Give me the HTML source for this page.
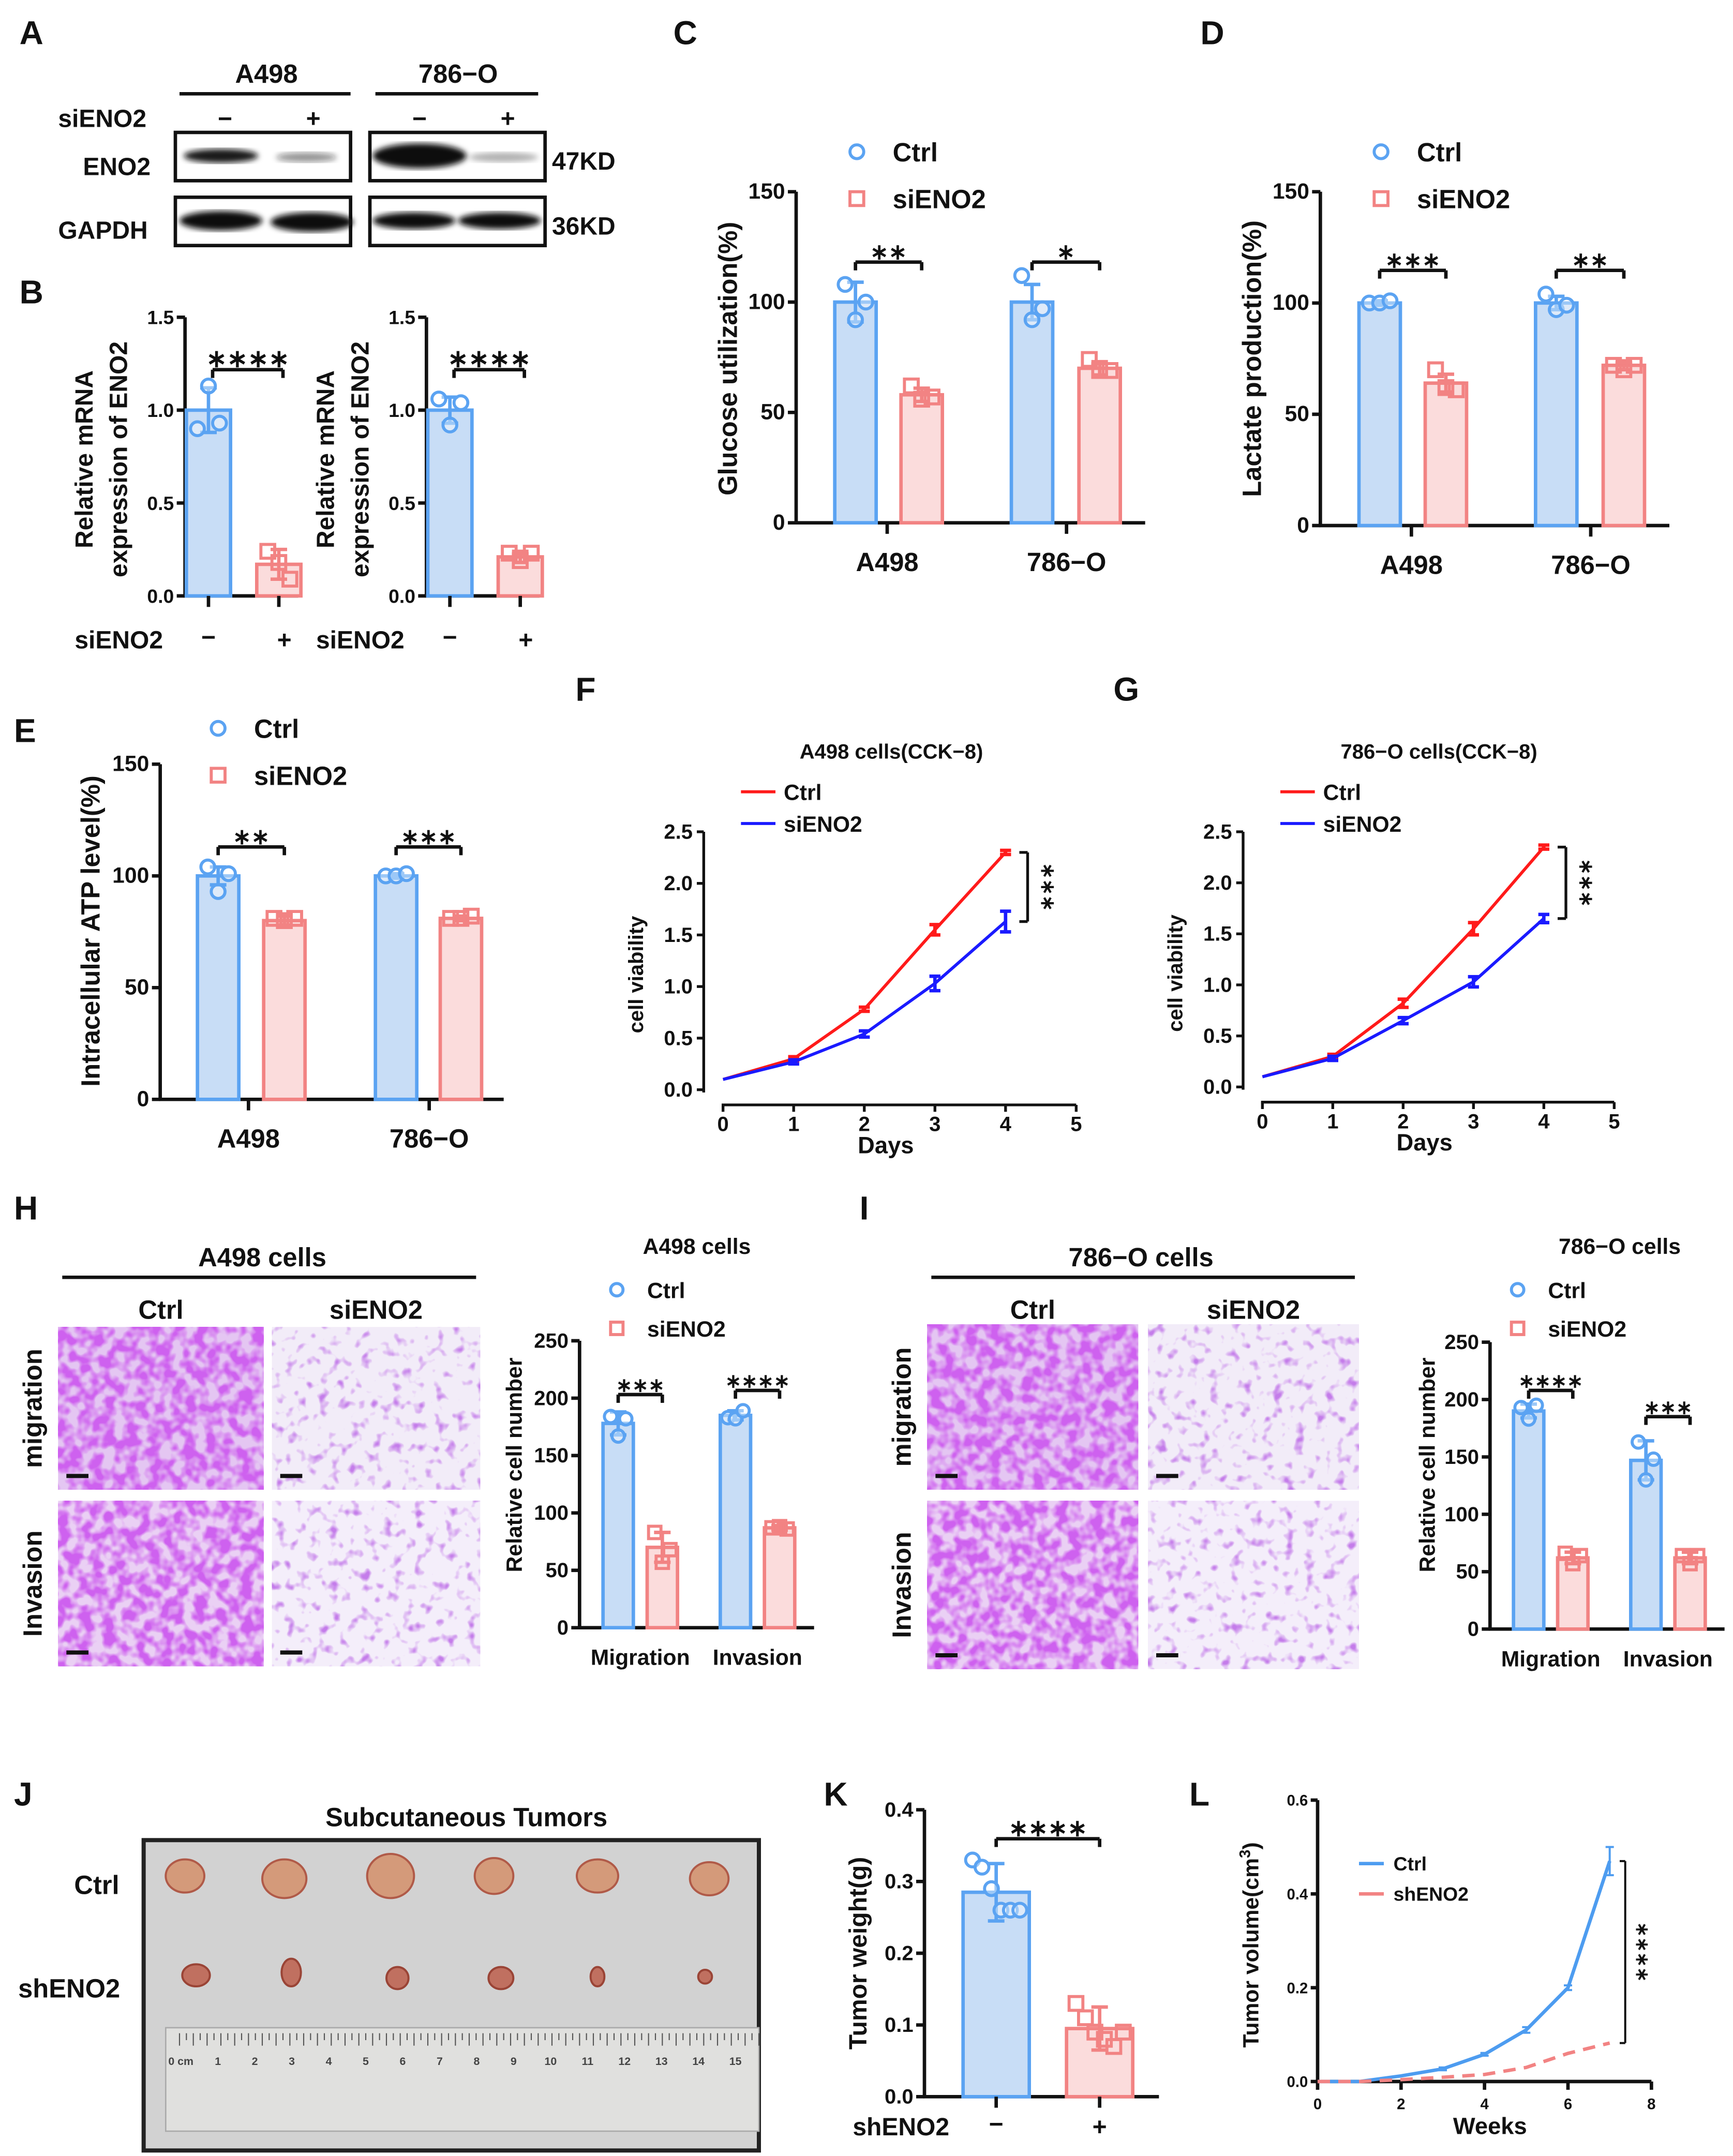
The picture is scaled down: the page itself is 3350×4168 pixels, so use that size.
<!DOCTYPE html>
<html><head><meta charset="utf-8"><style>
html,body{margin:0;padding:0;background:#fff}
svg{display:block}
text{font-family:"Liberation Sans",sans-serif;font-weight:bold;fill:#111}
</style></head><body>
<svg id="fig" xmlns="http://www.w3.org/2000/svg" width="3350" height="4168" viewBox="0 0 1256 1563">
<defs>
<filter id="blur2"><feGaussianBlur stdDeviation="2"/></filter>
<filter id="stainDense" x="0" y="0" width="1" height="1">
<feTurbulence type="fractalNoise" baseFrequency="0.12" numOctaves="2" seed="3"/>
<feColorMatrix type="matrix" values="0 0 0 0 0.62  0 0 0 0 0.12  0 0 0 0 0.86  0 0 0 -3.6 2.3"/>
</filter>
<filter id="stainSparse" x="0" y="0" width="1" height="1">
<feTurbulence type="fractalNoise" baseFrequency="0.13" numOctaves="2" seed="7"/>
<feColorMatrix type="matrix" values="0 0 0 0 0.55  0 0 0 0 0.2  0 0 0 0 0.82  0 0 0 -4 1.75"/>
</filter>
</defs>
<g id="root"></g>
</svg>
<script>
// ---------- data ----------
const bLeftVals=[1.0,0.17], bLeftErr=[0.12,0.08], bLeftPts=[[0.9,1.13,0.93],[0.24,0.18,0.09]];
const bRightVals=[1.0,0.21], bRightErr=[0.07,0.03], bRightPts=[[1.06,0.92,1.04],[0.23,0.19,0.23]];
const groupsCell=["A498","786−O"];
const glucoseCtrl=[100,100], glucoseSi=[58,70], glucoseErrC=[9,8], glucoseErrS=[3,3];
const glucosePtsC=[[108,92,100],[112,92,97]], glucosePtsS=[[62,56,57],[74,69,69]];
const lactateCtrl=[100,100], lactateSi=[64,72], lactateErrC=[1,3], lactateErrS=[4,2];
const lactatePtsC=[[100,100,101],[104,97,99]], lactatePtsS=[[70,62,61],[72,70,72]];
const atpCtrl=[100,100], atpSi=[80,81], atpErrC=[4,1], atpErrS=[2,1];
const atpPtsC=[[104,93,101],[100,100,101]], atpPtsS=[[81,80,81],[81,81,82]];
const days=[0,1,2,3,4];
const fCtrl=[0.1,0.3,0.78,1.55,2.3], fSi=[0.1,0.27,0.54,1.03,1.63];
const fCtrlErr=[0.01,0.02,0.02,0.05,0.02], fSiErr=[0.01,0.02,0.03,0.07,0.1];
const gCtrl=[0.1,0.3,0.82,1.55,2.35], gSi=[0.1,0.28,0.65,1.03,1.65];
const gCtrlErr=[0.01,0.02,0.04,0.06,0.02], gSiErr=[0.01,0.02,0.03,0.05,0.04];
const assayGroups=["Migration","Invasion"];
const hCtrl=[178,185], hSi=[70,87], hErrC=[10,4], hErrS=[13,2];
const hPtsC=[[184,167,182],[183,182,189]], hPtsS=[[83,57,68],[87,88,86]];
const iCtrl=[190,147], iSi=[62,62], iErrC=[6,17], iErrS=[5,5];
const iPtsC=[[193,183,195],[163,130,148]], iPtsS=[[66,57,64],[64,57,64]];
const kVals=[0.285,0.095], kErr=[0.04,0.03];
const kPts=[[0.33,0.32,0.29,0.26,0.26,0.26],[0.13,0.11,0.09,0.08,0.07,0.09]];
const weeks=[0,1,2,3,4,5,6,7];
const lCtrl=[0,0,0.012,0.027,0.058,0.11,0.2,0.47], lSh=[0,0,0.004,0.009,0.015,0.03,0.06,0.082];
const lCtrlErr=[0,0,0,0.003,0.003,0.006,0.005,0.03];

// ---------- helpers ----------
const NS="http://www.w3.org/2000/svg";
const root=document.getElementById('root');
function el(tag,attrs,parent,txt){const e=document.createElementNS(NS,tag);for(const k in attrs)e.setAttribute(k,attrs[k]);if(txt!==undefined)e.textContent=txt;(parent||root).appendChild(e);return e;}
function grp(name){const g=el('g',{});return g;}
function txt(g,x,y,s,size,anchor,rot,name,fill){const t=el('text',{x:x,y:y,'font-size':size,'text-anchor':anchor||'middle'},g,s);if(rot)t.setAttribute('transform','rotate('+rot+' '+x+' '+y+')');if(fill)t.setAttribute('style','fill:'+fill);return t;}
function line(g,x1,y1,x2,y2,c,w,dash){const l=el('line',{x1:x1,y1:y1,x2:x2,y2:y2,stroke:c||'#111','stroke-width':w||2.5},g);if(dash)l.setAttribute('stroke-dasharray',dash);return l;}
const BLUE="#5ba3f2", BLUEF="#c8ddf6", RED="#f28383", REDF="#fbdcdc";
function yAxis(g,x,y0,yTop,ticks,max,size,fmt,xEnd){
  const sc=v=>y0-(v/max)*(y0-yTop);
  line(g,x,y0+1,x,yTop,'#111',2.5);
  ticks.forEach(t=>{line(g,x-6,sc(t),x,sc(t),'#111',2.5);txt(g,x-8,sc(t)+5,fmt?fmt(t):String(t),size,'end',0,'y-tick-label');});
  if(xEnd)line(g,x-1,y0,xEnd,y0,'#111',2.5);
  return sc;
}
function marker(g,cx,cy,col,type,r){
  if(type==='c'){const c=el('circle',{cx:cx,cy:cy,r:r,fill:'#fff','fill-opacity':0.4,stroke:col,'stroke-width':2.2},g);}
  else{const s=el('rect',{x:cx-r,y:cy-r,width:2*r,height:2*r,fill:'none',stroke:col,'stroke-width':2.2},g);}
}
function bar(g,sc,cx,w,v,err,pts,col,fill,type,name,mr){
  const r=el('rect',{x:cx-w/2,y:sc(v),width:w,height:sc(0)-sc(v),fill:fill,stroke:col,'stroke-width':2.5},g);
  
  line(g,cx,sc(v-err),cx,sc(v+err),col,2.5);
  line(g,cx-6,sc(v+err),cx+6,sc(v+err),col,2.5);
  line(g,cx-6,sc(v-err),cx+6,sc(v-err),col,2.5);
  const n=pts.length, sp=Math.min(9,w/(n+1));
  pts.forEach((p,i)=>marker(g,cx+(i-(n-1)/2)*sp,sc(p),col,type,mr||5));
}
function bracket(g,x1,x2,y,stars,size){line(g,x1,y+6,x1,y,'#111',2.5);line(g,x1,y,x2,y);line(g,x2,y,x2,y+6);txt(g,(x1+x2)/2,y-2,stars,size||16,'middle',0,'significance-stars');}
function legendBar(g,x,y,size,gap){marker(g,x,y,BLUE,'c',5);txt(g,x+26,y+7,'Ctrl',size,'start',0,'legend-ctrl');marker(g,x,y+gap,RED,'s',5);txt(g,x+26,y+gap+7,'siENO2',size,'start',0,'legend-sieno2');}
function panel(l,x,y){txt(null,x,y,l,24,'start',0,'panel-label-'+l.toLowerCase());}

// ---------- panel letters ----------
[['A',14,32],['B',14,220],['C',488,32],['D',870,32],['E',10,538],['F',417,508],['G',807,508],['H',10,884],['I',623,884],['J',10,1309],['K',597,1309],['L',862,1309]].forEach(p=>panel(p[0],p[1],p[2]));

// ---------- A western blot ----------
(function(){
const g=grp('western-blot');
txt(g,193,60,'A498',19,'middle',0,'cell-a498');txt(g,332,60,'786−O',19,'middle',0,'cell-786o');
line(g,130,68,254,68,'#111',2.5);line(g,272,68,390,68,'#111',2.5);
txt(g,42,92,'siENO2',18,'start',0,'sieno2-label');
txt(g,163,92,'−',18,'middle',0,'minus');txt(g,227,92,'+',18,'middle',0,'plus');
txt(g,304,92,'−',18,'middle',0,'minus');txt(g,368,92,'+',18,'middle',0,'plus');
txt(g,60,127,'ENO2',18,'start',0,'eno2-label');txt(g,42,173,'GAPDH',18,'start',0,'gapdh-label');
txt(g,400,123,'47KD',18,'start',0,'kd-47');txt(g,400,170,'36KD',18,'start',0,'kd-36');
[[127,96],[268,96],[127,143],[268,143]].forEach(b=>{const r=el('rect',{x:b[0],y:b[1],width:127,height:35,fill:'#fff',stroke:'#111','stroke-width':2.5},g);});
const bands=[[160,113,27,5,0.95],[222,114,22,3.5,0.45],[304,113,34,9,1],[365,114,25,3.5,0.3],[160,160,30,7,1],[226,161,30,7,1],[300,160,30,6,1],[362,160,30,6,1]];
bands.forEach(b=>{const e=el('ellipse',{cx:b[0],cy:b[1],rx:b[2],ry:b[3],fill:'#111','fill-opacity':b[4],filter:'url(#blur2)'},g);});
})();

// ---------- B ----------
function panelB(ax,vals,err,pts,name,lx){
const g=grp(name);
const sc=yAxis(g,ax,432,230,[0,0.5,1.0,1.5],1.5,14,t=>t.toFixed(1),ax+82);
const xs=[ax+17,ax+68];
bar(g,sc,xs[0],32,vals[0],err[0],pts[0],BLUE,BLUEF,'c','bar-ctrl');
bar(g,sc,xs[1],32,vals[1],err[1],pts[1],RED,REDF,'s','bar-sieno2');
xs.forEach(x=>line(g,x,432,x,440));
bracket(g,xs[0]+3,xs[1]+3,268,'∗∗∗∗',18);
txt(g,lx,333,'Relative mRNA',18,'middle',-90,'y-axis-title');
txt(g,lx+25,333,'expression of ENO2',18,'middle',-90,'y-axis-title');
txt(g,ax-80,470,'siENO2',18,'start',0,'x-label-sieno2');
txt(g,xs[0],468,'−',18,'middle',0,'minus');txt(g,xs[1]+4,470,'+',18,'middle',0,'plus');
}
panelB(134,bLeftVals,bLeftErr,bLeftPts,'chart-b-a498',67);
panelB(309,bRightVals,bRightErr,bRightPts,'chart-b-786o',242);

// ---------- grouped bar charts C D E ----------
function grouped(name,ax,y0,yTop,max,ticks,xEnd,xs,ctrl,si,eC,eS,pC,pS,w,stars,starY){
const g=grp(name);
const sc=yAxis(g,ax,y0,yTop,ticks,max,16,null,xEnd);
ctrl.forEach((v,i)=>{
  bar(g,sc,xs[i][0],w,v,eC[i],pC[i],BLUE,BLUEF,'c','bar-ctrl');
  bar(g,sc,xs[i][1],w,si[i],eS[i],pS[i],RED,REDF,'s','bar-sieno2');
  bracket(g,xs[i][0],xs[i][1],starY,stars[i],16);
});
return {g,sc};
}
(function(){
let r=grouped('chart-c',577,379,139,150,[0,50,100,150],830,[[620,668],[748,797]],glucoseCtrl,glucoseSi,glucoseErrC,glucoseErrS,glucosePtsC,glucosePtsS,30,['∗∗','∗'],190);
[643,773].forEach((x,i)=>{line(r.g,x,379,x,387);txt(r.g,x,414,groupsCell[i],19,'middle',0,'x-tick-label');});
txt(r.g,534,260,'Glucose utilization(%)',19,'middle',-90,'y-axis-title');
legendBar(r.g,621,110,19,34);
r=grouped('chart-d',957,381,139,150,[0,50,100,150],1210,[[1000,1048],[1128,1177]],lactateCtrl,lactateSi,lactateErrC,lactateErrS,lactatePtsC,lactatePtsS,30,['∗∗∗','∗∗'],196);
[1023,1153].forEach((x,i)=>{line(r.g,x,381,x,389);txt(r.g,x,416,groupsCell[i],19,'middle',0,'x-tick-label');});
txt(r.g,914,260,'Lactate production(%)',19,'middle',-90,'y-axis-title');
legendBar(r.g,1001,110,19,34);
r=grouped('chart-e',116,797,554,150,[0,50,100,150],365,[[158,206],[287,334]],atpCtrl,atpSi,atpErrC,atpErrS,atpPtsC,atpPtsS,30,['∗∗','∗∗∗'],614);
[180,311].forEach((x,i)=>{line(r.g,x,797,x,805);txt(r.g,x,832,groupsCell[i],19,'middle',0,'x-tick-label');});
txt(r.g,72,675,'Intracellular ATP level(%)',19,'middle',-90,'y-axis-title');
legendBar(r.g,158,528,19,34);
})();

// ---------- line charts F G ----------
function cck(name,x0,x5,yb,yt,ctrl,si,ec,es,title,tx){
const g=grp(name);
const xs=d=>x0+d*(x5-x0)/5, ys=v=>yb-v/2.5*(yb-yt);
line(g,x0-14,yb+2,x0-14,yt,'#111',2);
[0,0.5,1.0,1.5,2.0,2.5].forEach(t=>{line(g,x0-19,ys(t),x0-14,ys(t),'#111',2);txt(g,x0-22,ys(t)+5,t.toFixed(1),15,'end',0,'y-tick-label');});
line(g,x0-1,yb+11,x5,yb+11,'#111',2);
[0,1,2,3,4,5].forEach(t=>{line(g,xs(t),yb+11,xs(t),yb+16,'#111',2);txt(g,xs(t),yb+30,String(t),15,'middle',0,'x-tick-label');});
txt(g,(x0+x5)/2-10,yb+46,'Days',17,'middle',0,'x-axis-title');
txt(g,x0-58,(yb+yt)/2+10,'cell viability',15,'middle',-90,'y-axis-title');
txt(g,tx,550,title,15,'middle',0,'chart-title');
[[ctrl,ec,'#ff1a1a','line-ctrl'],[si,es,'#1a1aff','line-sieno2']].forEach(s=>{
  const p=el('polyline',{points:days.map((d,i)=>xs(d)+','+ys(s[0][i])).join(' '),fill:'none',stroke:s[2],'stroke-width':2.2},g);
  
  days.forEach((d,i)=>{const e=s[1][i];if(e>0.015){line(g,xs(d),ys(s[0][i]-e),xs(d),ys(s[0][i]+e),s[2],2.5);line(g,xs(d)-4,ys(s[0][i]+e),xs(d)+4,ys(s[0][i]+e),s[2],2.5);line(g,xs(d)-4,ys(s[0][i]-e),xs(d)+4,ys(s[0][i]-e),s[2],2.5);}});
});
line(g,x0+13,574,x0+38,574,'#ff1a1a',2.2);txt(g,x0+44,580,'Ctrl',16,'start',0,'legend-ctrl');
line(g,x0+13,597,x0+38,597,'#1a1aff',2.2);txt(g,x0+44,603,'siENO2',16,'start',0,'legend-sieno2');
const bx=xs(4)+16;line(g,bx-6,ys(ctrl[4]),bx,ys(ctrl[4]),'#111',2);line(g,bx,ys(ctrl[4]),bx,ys(si[4]),'#111',2);line(g,bx-6,ys(si[4]),bx,ys(si[4]),'#111',2);
txt(g,bx+10,ys((ctrl[4]+si[4])/2),'∗∗∗',14,'middle',90,'significance-stars');
}
cck('chart-f',524,780,790,603,fCtrl,fSi,fCtrlErr,fSiErr,'A498 cells(CCK−8)',646);
cck('chart-g',915,1170,788,603,gCtrl,gSi,gCtrlErr,gSiErr,'786−O cells(CCK−8)',1043);

// ---------- H I micrographs ----------
function micro(name,x1,x2,yA,yB,title,tx){
const g=grp(name);
txt(g,tx,918,title,19,'middle',0,'micrograph-title');
line(g,x1[0]+3,926,x2[0]+x2[1]-3,926,'#111',2.5);
txt(g,x1[0]+x1[1]/2,956,'Ctrl',19,'middle',0,'col-ctrl');txt(g,x2[0]+x2[1]/2,956,'siENO2',19,'middle',0,'col-sieno2');
txt(g,x1[0]-12,yA[0]+yA[1]/2,'migration',19,'middle',-90,'row-migration');
txt(g,x1[0]-12,yB[0]+yB[1]/2,'Invasion',19,'middle',-90,'row-invasion');
[[x1,yA,'stainDense','#e4c6f2'],[x2,yA,'stainSparse','#f2ecf8'],[x1,yB,'stainDense','#ead0f4'],[x2,yB,'stainSparse','#f4eefa']].forEach(c=>{
  const b=el('rect',{x:c[0][0],y:c[1][0],width:c[0][1],height:c[1][1],fill:c[3]},g);
  el('rect',{x:c[0][0],y:c[1][0],width:c[0][1],height:c[1][1],fill:'#fff',filter:'url(#'+c[2]+')'},g);
  line(g,c[0][0]+6,c[1][0]+c[1][1]-10,c[0][0]+22,c[1][0]+c[1][1]-10,'#111',3);
});
}
micro('micrographs-a498',[42,149],[197,151],[962,118],[1088,120],'A498 cells',190);
micro('micrographs-786o',[672,153],[832,153],[960,120],[1088,122],'786−O cells',827);

function cellChart(name,ax,y0,yTop,xEnd,xs,ctrl,si,eC,eS,pC,pS,title,tx,legX,starsArr,starY,ylx){
const g=grp(name);
const sc=yAxis(g,ax,y0,yTop,[0,50,100,150,200,250],250,15,null,xEnd);
ctrl.forEach((v,i)=>{
  bar(g,sc,xs[i][0],22,v,eC[i],pC[i],BLUE,BLUEF,'c','bar-ctrl',4.5);
  bar(g,sc,xs[i][1],22,si[i],eS[i],pS[i],RED,REDF,'s','bar-sieno2',4.5);
  bracket(g,xs[i][0],xs[i][1],starY[i],starsArr[i],14);
  txt(g,(xs[i][0]+xs[i][1])/2,y0+27,assayGroups[i],16,'middle',0,'x-tick-label');
});
txt(g,tx,909,title,16,'middle',0,'chart-title');
marker(g,legX,935,BLUE,'c',4.5);txt(g,legX+22,941,'Ctrl',16,'start',0,'legend-ctrl');
marker(g,legX,963,RED,'s',4.5);txt(g,legX+22,969,'siENO2',16,'start',0,'legend-sieno2');
txt(g,ylx,1062,'Relative cell number',16,'middle',-90,'y-axis-title');
}
cellChart('chart-h',420,1180,972,590,[[448,480],[533,565]],hCtrl,hSi,hErrC,hErrS,hPtsC,hPtsS,'A498 cells',505,447,['∗∗∗','∗∗∗∗'],[1011,1008],378);
cellChart('chart-i',1080,1181,973,1250,[[1108,1140],[1193,1225]],iCtrl,iSi,iErrC,iErrS,iPtsC,iPtsS,'786−O cells',1174,1100,['∗∗∗∗','∗∗∗'],[1008,1027],1040);

// ---------- J tumor photo ----------
(function(){
const g=grp('tumor-photo');
txt(g,338,1324,'Subcutaneous Tumors',19,'middle',0,'photo-title');
txt(g,70,1373,'Ctrl',19,'middle',0,'row-ctrl');txt(g,50,1448,'shENO2',19,'middle',0,'row-shENO2');
const bg=el('rect',{x:104,y:1334,width:446,height:225,fill:'#d2d2d2',stroke:'#222','stroke-width':3},g);
const r=el('rect',{x:120,y:1470,width:430,height:75,fill:'#e0e0de',stroke:'#aaa','stroke-width':1},g);
for(let i=0;i<=84;i++){line(g,130+i*5,1474,130+i*5,1474+(i%2?5:9),'#555',0.8);}
for(let i=0;i<=15;i++){txt(g,131+i*26.8,1497,i===0?'0 cm':String(i),8,'middle',0,'ruler-number','#444');}
[[134,1360,14,12],[206,1362,16,14],[283,1360,17,16],[358,1360,14,13],[433,1360,15,12],[514,1362,14,12]].forEach(t=>{const e=el('ellipse',{cx:t[0],cy:t[1],rx:t[2],ry:t[3],fill:'#d49a7a',stroke:'#b05a48','stroke-width':1.5},g);});
[[142,1432,10,8],[211,1430,7,10],[288,1434,8,8],[363,1434,9,8],[433,1433,5,7],[511,1433,5,5]].forEach(t=>{const e=el('ellipse',{cx:t[0],cy:t[1],rx:t[2],ry:t[3],fill:'#c07060',stroke:'#9a4436','stroke-width':1.5},g);});
})();

// ---------- K ----------
(function(){
const g=grp('chart-k');
const sc=yAxis(g,670,1520,1312,[0,0.1,0.2,0.3,0.4],0.4,15,t=>t.toFixed(1),840);
const xs=[722,797];
bar(g,sc,xs[0],48,kVals[0],kErr[0],kPts[0],BLUE,BLUEF,'c','bar-ctrl',5);
bar(g,sc,xs[1],48,kVals[1],kErr[1],kPts[1],RED,REDF,'s','bar-shENO2',5);
bracket(g,xs[0],xs[1],1333,'∗∗∗∗',17);
xs.forEach(x=>line(g,x,1520,x,1528));
txt(g,618,1548,'shENO2',18,'start',0,'x-label-shENO2');
txt(g,xs[0],1546,'−',18,'middle',0,'minus');txt(g,xs[1],1548,'+',18,'middle',0,'plus');
txt(g,628,1416,'Tumor weight(g)',18,'middle',-90,'y-axis-title');
})();

// ---------- L ----------
(function(){
const g=grp('chart-l');
const xs=w=>955+w*(1197-955)/8, ys=v=>1509-v/0.6*(1509-1305);
line(g,955,1510,955,1305,'#111',2.5);
[0,0.2,0.4,0.6].forEach(t=>{line(g,950,ys(t),955,ys(t),'#111',2.5);txt(g,948,ys(t)+4,t.toFixed(1),11,'end',0,'y-tick-label');});
line(g,954,1509,1197,1509,'#111',2.5);
[0,2,4,6,8].forEach(t=>{line(g,xs(t),1509,xs(t),1515,'#111',2.5);txt(g,xs(t),1529,String(t),11,'middle',0,'x-tick-label');});
txt(g,1080,1547,'Weeks',17,'middle',0,'x-axis-title');
const yt=el('text',{x:912,y:1410,'font-size':16,'text-anchor':'middle',transform:'rotate(-90 912 1410)'},g);

yt.innerHTML='Tumor volume(cm<tspan dy="-6" font-size="11">3</tspan><tspan dy="6">)</tspan>';
const pc=el('polyline',{points:weeks.map((w,i)=>xs(w)+','+ys(lCtrl[i])).join(' '),fill:'none',stroke:'#4d9cf0','stroke-width':2.5},g);

weeks.forEach((w,i)=>{const e=lCtrlErr[i];if(e>0){line(g,xs(w),ys(lCtrl[i]-e),xs(w),ys(lCtrl[i]+e),'#4d9cf0',1.5);line(g,xs(w)-3,ys(lCtrl[i]+e),xs(w)+3,ys(lCtrl[i]+e),'#4d9cf0',1.5);line(g,xs(w)-3,ys(lCtrl[i]-e),xs(w)+3,ys(lCtrl[i]-e),'#4d9cf0',1.5);}});
const ps=el('polyline',{points:weeks.map((w,i)=>xs(w)+','+ys(lSh[i])).join(' '),fill:'none',stroke:'#f28383','stroke-width':2.5,'stroke-dasharray':'9,6'},g);

line(g,985,1351,1003,1351,'#4d9cf0',2.5);txt(g,1010,1356,'Ctrl',14,'start',0,'legend-ctrl');
line(g,985,1373,1003,1373,'#f28383',2.5);txt(g,1010,1378,'shENO2',14,'start',0,'legend-shENO2');
const bx=1178;line(g,bx-4,ys(lCtrl[7]),bx,ys(lCtrl[7]),'#111',1.5);line(g,bx,ys(lCtrl[7]),bx,ys(lSh[7]),'#111',1.5);line(g,bx-4,ys(lSh[7]),bx,ys(lSh[7]),'#111',1.5);
txt(g,bx+8,ys((lCtrl[7]+lSh[7])/2),'∗∗∗∗',13,'middle',90,'significance-stars');
})();
</script>
</body></html>
